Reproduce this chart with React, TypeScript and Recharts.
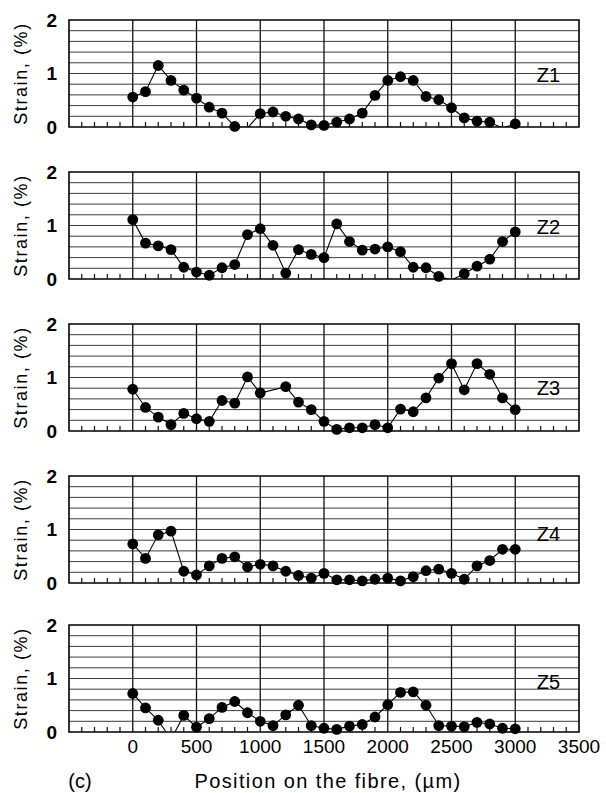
import React from 'react';
import {
  LineChart,
  Line,
  XAxis,
  YAxis,
  CartesianGrid,
  ReferenceArea,
  ReferenceDot,
  Label,
} from 'recharts';

// Measurement positions along the fibre (µm)
const positions = [
  0, 100, 200, 300, 400, 500, 600, 700, 800, 900, 1000, 1100, 1200, 1300, 1400, 1500,
  1600, 1700, 1800, 1900, 2000, 2100, 2200, 2300, 2400, 2500, 2600, 2700, 2800, 2900, 3000,
];

// Strain (%) per zone; values just under zero fall below the plotted range
const strainZ1 = [
  0.56, 0.66, 1.15, 0.87, 0.69, 0.54, 0.37, 0.26, 0.01, -0.02, 0.25, 0.28, 0.2, 0.15, 0.04, 0.03,
  0.09, 0.15, 0.26, 0.59, 0.87, 0.94, 0.87, 0.57, 0.51, 0.36, 0.17, 0.11, 0.09, -0.02, 0.06,
];
const strainZ2 = [
  1.11, 0.67, 0.62, 0.55, 0.22, 0.13, 0.07, 0.21, 0.27, 0.83, 0.94, 0.63, 0.11, 0.55, 0.46, 0.4,
  1.03, 0.7, 0.54, 0.56, 0.6, 0.51, 0.22, 0.21, 0.05, -0.02, 0.1, 0.24, 0.37, 0.7, 0.88,
];
const strainZ3 = [
  0.78, 0.44, 0.26, 0.12, 0.33, 0.23, 0.18, 0.57, 0.52, 1.01, 0.71, null, 0.83, 0.54, 0.4, 0.18,
  0.03, 0.06, 0.06, 0.12, 0.06, 0.41, 0.36, 0.62, 0.99, 1.26, 0.77, 1.26, 1.06, 0.62, 0.4,
];
const strainZ4 = [
  0.73, 0.46, 0.9, 0.97, 0.22, 0.15, 0.32, 0.46, 0.49, 0.3, 0.35, 0.32, 0.22, 0.14, 0.09, 0.18,
  0.06, 0.06, 0.04, 0.07, 0.09, 0.04, 0.12, 0.23, 0.26, 0.18, 0.07, 0.32, 0.42, 0.63, 0.63,
];
const strainZ5 = [
  0.72, 0.45, 0.22, -0.14, 0.31, 0.09, 0.25, 0.46, 0.57, 0.36, 0.2, 0.12, 0.32, 0.5, 0.12, 0.07,
  0.05, 0.11, 0.14, 0.28, 0.51, 0.74, 0.75, 0.5, 0.12, 0.11, 0.1, 0.18, 0.15, 0.07, 0.06,
];

const zoneNames = ['Z1', 'Z2', 'Z3', 'Z4', 'Z5'];
const zoneLabelStrain = [0.97, 0.97, 0.81, 0.92, 0.94];
const zoneLabelPosition = 3260;

const positionLabelTicks = [0, 500, 1000, 1500, 2000, 2500, 3000, 3500];
const positionGridLines = [0, 500, 1000, 1500, 2000, 2500, 3000];
const positionMinorTicks = [
  -400, -300, -200, -100, 100, 200, 300, 400, 600, 700, 800, 900, 1100, 1200, 1300, 1400, 1600,
  1700, 1800, 1900, 2100, 2200, 2300, 2400, 2600, 2700, 2800, 2900, 3100, 3200, 3300, 3400,
];
const strainTicks = [0, 1, 2];
const strainGridLines = [0.2, 0.4, 0.6, 0.8, 1, 1.2, 1.4, 1.6, 1.8];

const FONT = '"Liberation Sans", Arial, Helvetica, sans-serif';
const WIDTH = 606;
const PLOT_TOPS = [20, 172, 324, 476, 625];
const PLOT_HEIGHT = 107;
const MARGIN_TOP = 14;
const MARGIN_BOTTOM = 16;
const X_AXIS_HEIGHT = 61;

const NoTick = () => <g />;

const StrainTitle = (props: any) => {
  const vb = props.viewBox || { x: 0, y: MARGIN_TOP, width: 69, height: PLOT_HEIGHT };
  const cx = 21;
  const cy = vb.y + vb.height / 2;
  return (
    <text
      x={cx}
      y={cy}
      transform={`rotate(-90 ${cx} ${cy})`}
      textAnchor="middle"
      dominantBaseline="central"
      fontFamily={FONT}
      fontSize={18}
      letterSpacing={1.6}
      fill="#000"
    >
      Strain, (%)
    </text>
  );
};

const PositionTitle = (props: any) => {
  const vb = props.viewBox || { x: 69, y: MARGIN_TOP + PLOT_HEIGHT, width: 510, height: X_AXIS_HEIGHT };
  const y = vb.y + 49;
  return (
    <g>
      <text x={80} y={y} textAnchor="middle" dominantBaseline="central" fontFamily={FONT} fontSize={20} fill="#000">
        (c)
      </text>
      <text x={328} y={y} textAnchor="middle" dominantBaseline="central" fontFamily={FONT} fontSize={20} letterSpacing={1.4} fill="#000">
        Position on the fibre, (µm)
      </text>
    </g>
  );
};

type PanelProps = {
  values: (number | null)[];
  name: string;
  nameStrain: number;
  top: number;
  last: boolean;
};

function Panel({ values, name, nameStrain, top, last }: PanelProps) {
  const rows = positions.map((x, i) => {
    const v = values[i];
    return { x, strain: v, marker: v !== null && v >= 0 ? v : null };
  });
  const height = MARGIN_TOP + PLOT_HEIGHT + (last ? X_AXIS_HEIGHT : MARGIN_BOTTOM);
  return (
    <div style={{ position: 'absolute', left: 0, top: top - MARGIN_TOP }}>
      <LineChart
        width={WIDTH}
        height={height}
        data={rows}
        margin={{ top: MARGIN_TOP, right: 27, bottom: last ? 0 : MARGIN_BOTTOM, left: 0 }}
      >
        <CartesianGrid
          horizontal
          vertical={false}
          horizontalValues={strainGridLines}
          stroke="#262626"
          strokeWidth={0.9}
        />
        <CartesianGrid
          horizontal={false}
          vertical
          verticalValues={positionGridLines}
          stroke="#111"
          strokeWidth={1.3}
        />
        <XAxis
          dataKey="x"
          type="number"
          domain={[-500, 3500]}
          ticks={positionLabelTicks}
          interval={0}
          hide={!last}
          height={X_AXIS_HEIGHT}
          axisLine={false}
          tickLine={false}
          tickSize={0}
          tickMargin={8}
          tick={{ fontSize: 19, fill: '#000', fontFamily: FONT }}
        >
          {last && <Label content={<PositionTitle />} />}
        </XAxis>
        <XAxis
          xAxisId="minor"
          dataKey="x"
          type="number"
          domain={[-500, 3500]}
          ticks={positionMinorTicks}
          interval={0}
          orientation="bottom"
          mirror
          axisLine={false}
          tickSize={5}
          tickLine={{ stroke: '#111', strokeWidth: 1.2 }}
          tick={<NoTick />}
        />
        <YAxis
          type="number"
          domain={[0, 2]}
          ticks={strainTicks}
          interval={0}
          allowDataOverflow
          width={69}
          axisLine={false}
          tickLine={false}
          tickSize={0}
          tickMargin={12}
          tick={{ fontSize: 19, fill: '#000', fontFamily: FONT, fontWeight: 'bold' }}
        >
          <Label content={<StrainTitle />} />
        </YAxis>
        <ReferenceArea
          x1={-500}
          x2={3500}
          y1={0}
          y2={2}
          fill="none"
          fillOpacity={0}
          stroke="#000"
          strokeWidth={1.6}
        />
        <Line
          type="linear"
          dataKey="strain"
          stroke="#000"
          strokeWidth={1.1}
          dot={false}
          activeDot={false}
          connectNulls
          isAnimationActive={false}
        />
        <Line
          type="linear"
          dataKey="marker"
          stroke="none"
          dot={{ r: 5.4, fill: '#000', stroke: 'none', strokeWidth: 0, clipDot: false }}
          activeDot={false}
          isAnimationActive={false}
        />
        <ReferenceDot
          x={zoneLabelPosition}
          y={nameStrain}
          r={0}
          fill="none"
          stroke="none"
          label={{ value: name, position: 'center', fontSize: 20, fill: '#000', fontFamily: FONT }}
        />
      </LineChart>
    </div>
  );
}

const zones = [strainZ1, strainZ2, strainZ3, strainZ4, strainZ5];

export default function App() {
  return (
    <div
      style={{
        position: 'absolute',
        left: 0,
        top: 0,
        width: WIDTH,
        height: 793,
        background: '#fff',
        overflow: 'hidden',
      }}
    >
      {zones.map((values, i) => (
        <Panel
          key={zoneNames[i]}
          values={values}
          name={zoneNames[i]}
          nameStrain={zoneLabelStrain[i]}
          top={PLOT_TOPS[i]}
          last={i === zones.length - 1}
        />
      ))}
    </div>
  );
}
